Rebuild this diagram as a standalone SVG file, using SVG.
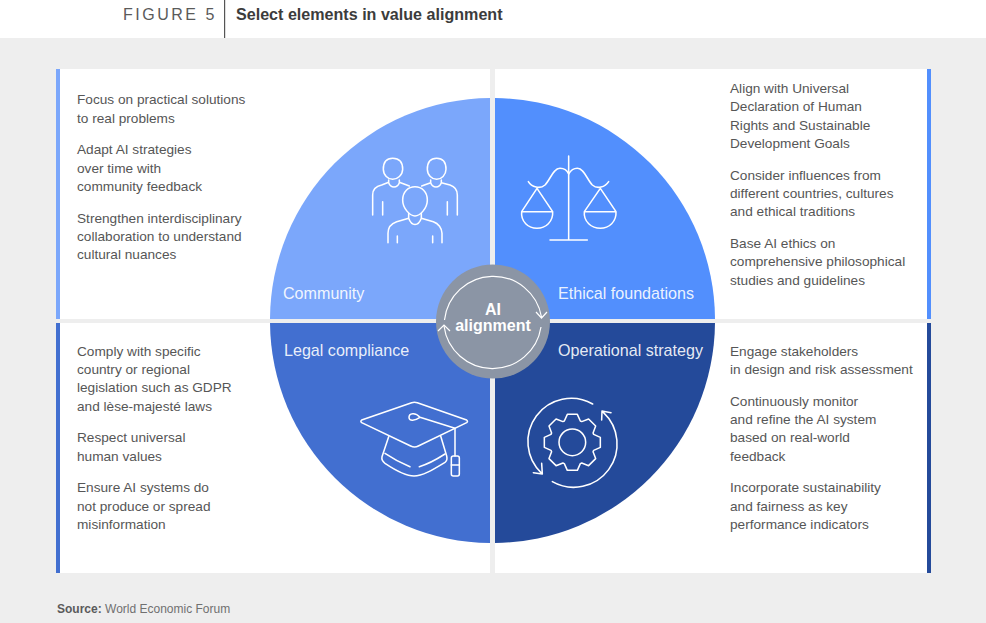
<svg xmlns="http://www.w3.org/2000/svg" width="986" height="623" viewBox="0 0 986 623">
<style>
text{font-family:"Liberation Sans",Arial,sans-serif}
.b{font-size:13.65px;fill:#565656}
.l{font-size:16.1px;fill:#fff;fill-opacity:.9}
.i{fill:none;stroke:#fff;stroke-width:4.6;stroke-linecap:round;stroke-linejoin:round}
</style>
<rect x="0" y="0" width="986" height="623" fill="#fff"/>
<rect x="0" y="38" width="986" height="585" fill="#eeeeee"/>
<g id="header">
<text x="123" y="20" font-size="16" letter-spacing="2.5" fill="#5a5a5a">FIGURE 5</text>
<rect x="224" y="0" width="1.2" height="38" fill="#555"/>
<text x="236" y="20" font-size="16.1" font-weight="700" fill="#3c3c3c">Select elements in value alignment</text>
</g>
<g id="panel-community"><rect x="56" y="69" width="434" height="250" fill="#fff"/><rect x="56" y="69" width="4" height="250" fill="#7ba7fb"/>
<text class="b"><tspan x="77" y="104">Focus on practical solutions</tspan><tspan x="77" y="123">to real problems</tspan><tspan x="77" y="154">Adapt AI strategies</tspan><tspan x="77" y="173">over time with</tspan><tspan x="77" y="191">community feedback</tspan><tspan x="77" y="223">Strengthen interdisciplinary</tspan><tspan x="77" y="241">collaboration to understand</tspan><tspan x="77" y="259">cultural nuances</tspan></text></g>
<g id="panel-ethical"><rect x="495" y="69" width="432" height="250" fill="#fff"/><rect x="927" y="69" width="4" height="250" fill="#528ffd"/>
<text class="b"><tspan x="730" y="93">Align with Universal</tspan><tspan x="730" y="111">Declaration of Human</tspan><tspan x="730" y="130">Rights and Sustainable</tspan><tspan x="730" y="148">Development Goals</tspan><tspan x="730" y="180">Consider influences from</tspan><tspan x="730" y="198">different countries, cultures</tspan><tspan x="730" y="216">and ethical traditions</tspan><tspan x="730" y="248">Base AI ethics on</tspan><tspan x="730" y="266">comprehensive philosophical</tspan><tspan x="730" y="285">studies and guidelines</tspan></text></g>
<g id="panel-legal"><rect x="56" y="323" width="434" height="250" fill="#fff"/><rect x="56" y="323" width="4" height="250" fill="#426fd0"/>
<text class="b"><tspan x="77" y="356">Comply with specific</tspan><tspan x="77" y="374">country or regional</tspan><tspan x="77" y="392">legislation such as GDPR</tspan><tspan x="77" y="411">and lèse-majesté laws</tspan><tspan x="77" y="442">Respect universal</tspan><tspan x="77" y="461">human values</tspan><tspan x="77" y="492">Ensure AI systems do</tspan><tspan x="77" y="511">not produce or spread</tspan><tspan x="77" y="529">misinformation</tspan></text></g>
<g id="panel-operational"><rect x="495" y="323" width="432" height="250" fill="#fff"/><rect x="927" y="323" width="4" height="250" fill="#244a9a"/>
<text class="b"><tspan x="730" y="356">Engage stakeholders</tspan><tspan x="730" y="374">in design and risk assessment</tspan><tspan x="730" y="406">Continuously monitor</tspan><tspan x="730" y="424">and refine the AI system</tspan><tspan x="730" y="442">based on real-world</tspan><tspan x="730" y="461">feedback</tspan><tspan x="730" y="492">Incorporate sustainability</tspan><tspan x="730" y="511">and fairness as key</tspan><tspan x="730" y="529">performance indicators</tspan></text></g>
<g id="sector-community"><path d="M490 319H270A222 222 0 0 1 490 98Z" fill="#7ba7fb"/>
<g class="i" transform="translate(340 130) scale(.33333)">
<path d="M130 118C130 95 142 85 158 85C175 85 188 95 188 118C188 135 172 148 158 148C144 148 130 135 130 118Z"/>
<path d="M146 150V158C152 175 172 175 178 158V150M98 255V195C98 178 110 168 125 165L146 157M178 157L208 168M128 215V255"/>
<path d="M262 118C262 95 274 85 290 85C307 85 318 95 318 118C318 135 304 148 290 148C276 148 262 135 262 118Z"/>
<path d="M272 150V158C278 175 298 175 304 158V150M245 168L272 158M304 158L330 165C345 170 352 180 352 195V255M322 215V255"/>
<path d="M188 210C188 185 205 170 225 170C245 170 262 185 262 210C262 235 240 258 225 258C210 258 188 235 188 210Z"/>
<path d="M206 250V265C215 290 235 290 244 265V250M144 338V310C144 292 155 280 170 275L206 265M244 265L280 275C295 280 306 295 306 310V338M172 318V338M278 318V338"/>
</g></g>
<g id="sector-ethical"><path d="M495 319H715A222 222 0 0 0 495 98Z" fill="#528ffd"/>
<g class="i" transform="translate(340 130) scale(.33333)">
<path d="M686 78V330M630 330H742"/>
<path d="M565 155C575 172 600 178 615 165C630 150 640 115 660 115C675 115 683 125 686 132C690 125 697 115 712 115C732 115 742 150 757 165C772 178 795 172 806 155"/>
<path d="M591 175L545 245H638ZM545 245C542 275 565 295 591 295C617 295 640 275 638 245"/>
<path d="M781 175L733 245H828ZM733 245C730 275 755 295 781 295C807 295 830 275 828 245"/>
</g></g>
<g id="sector-legal"><path d="M490 323H270A222 222 0 0 0 490 543Z" fill="#426fd0"/>
<g class="i" transform="translate(340 380) scale(.33333)">
<path d="M65 120L215 68Q223 66 232 68L380 120Q385 124 380 128L235 198Q224 204 212 198L65 128Q60 124 65 120Z"/>
<path d="M240 112C225 122 207 125 207 112C207 100 225 95 240 112ZM240 112L345 145V228"/>
<rect x="334" y="228" width="24" height="60" rx="6"/><path d="M334 255H358"/>
<path d="M146 170L126 230C124 240 128 245 135 250C165 270 195 288 222 288C250 288 285 265 315 247C322 242 322 236 320 228L302 168"/>
<path d="M135 220C160 237 185 250 210 260M238 260C265 252 290 238 315 222"/>
</g></g>
<g id="sector-operational"><path d="M495 323H715A222 222 0 0 1 495 543Z" fill="#244a9a"/>
<g class="i" transform="translate(340 380) scale(.33333)">
<circle cx="697" cy="187" r="40"/>
<path transform="translate(697 187)" d="M-24 -64L-15 -84H15L24 -64L28.3 -62.2L48.8 -70L70 -48.8L62.2 -28.3L64 -24L84 -15V15L64 24L62.2 28.3L70 48.8L48.8 70L28.3 62.2L24 64L15 84H-15L-24 64L-28.3 62.2L-48.8 70L-70 48.8L-62.2 28.3L-64 24L-84 15V-15L-64 -24L-62.2 -28.3L-70 -48.8L-48.8 -70L-28.3 -62.2Z"/>
<path d="M758 72A130 130 0 0 0 605 280M605 250L607 282L580 278"/>
<path d="M637 305A130 130 0 0 0 790 97M785 120L786 93L813 98"/>
</g></g>
<g id="hub"><circle cx="493" cy="321.500" r="57" fill="#8b95a5"/>
<path d="M444.500 320A49 49 0 0 1 541.500 317M541 327A49 49 0 0 1 444 326" fill="none" stroke="#fff" stroke-width="1.2"/>
<path d="M536 312l5.500 6 5.500-6M438 331l6-6 6 6" fill="none" stroke="#fff" stroke-width="1.2"/>
<text x="493" y="315" font-size="16" font-weight="700" fill="#fff" text-anchor="middle">AI</text>
<text x="493" y="331" font-size="16" font-weight="700" fill="#fff" text-anchor="middle">alignment</text></g>
<g id="labels"><text class="l" x="283" y="299">Community</text><text class="l" x="558" y="299">Ethical foundations</text><text class="l" x="284" y="356">Legal compliance</text><text class="l" x="558" y="356">Operational strategy</text></g>
<text x="57" y="613" font-size="12" fill="#707070"><tspan font-weight="700" fill="#5a5a5a">Source:</tspan> World Economic Forum</text>
</svg>
